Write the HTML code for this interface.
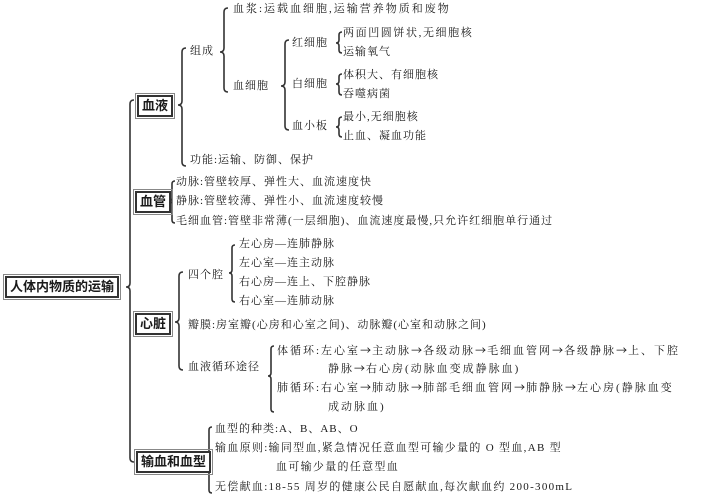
<!DOCTYPE html>
<html><head><meta charset="utf-8"><style>
body{margin:0;background:#fff;width:702px;height:500px;overflow:hidden;position:relative;font-family:"Liberation Serif","Noto Serif CJK SC",serif;color:#1a1a1a}
.t{position:absolute;font-size:11px;letter-spacing:1px;white-space:nowrap;line-height:14px}
.c{letter-spacing:2px}
.a{font-family:"Noto Sans CJK SC",sans-serif;letter-spacing:1px}
.b{position:absolute;border:2px solid #333;outline:1px solid #888;outline-offset:1px;font-family:"Liberation Sans","Noto Sans CJK SC",sans-serif;font-weight:bold;font-size:13px;line-height:18px;padding:0 3px;background:#fff}
svg{position:absolute;left:0;top:0}
</style></head><body>
<svg width="702" height="500" fill="none" stroke="#333" stroke-width="1.6">
<path d="M134 100 Q130 100 130 104 L130 283 Q130 287 126 287 Q130 287 130 291 L130 458 Q130 462 134 462"/>
<path d="M186 48 Q182 48 182 52 L182 101 Q182 105 178 105 Q182 105 182 109 L182 162 Q182 166 186 166"/>
<path d="M228 8 Q224 8 224 12 L224 48 Q224 52 220 52 Q224 52 224 56 L224 88 Q224 92 228 92"/>
<path d="M289 40 Q285 40 285 44 L285 82 Q285 86 281 86 Q285 86 285 90 L285 126 Q285 130 289 130"/>
<path d="M342 32 Q339 32 339 35 L339 40 Q339 43 336 43 Q339 43 339 46 L339 50 Q339 53 342 53"/>
<path d="M342 74 Q339 74 339 77 L339 81 Q339 84 336 84 Q339 84 339 87 L339 92 Q339 95 342 95"/>
<path d="M342 117 Q339 117 339 120 L339 124 Q339 127 336 127 Q339 127 339 130 L339 134 Q339 137 342 137"/>
<path d="M175 181 Q172 181 172 184 L172 198 Q172 201 169 201 Q172 201 172 204 L172 220 Q172 223 175 223"/>
<path d="M183 272 Q179 272 179 276 L179 318 Q179 322 175 322 Q179 322 179 326 L179 366 Q179 370 183 370"/>
<path d="M235 245 Q232 245 232 248 L232 270 Q232 273 229 273 Q232 273 232 276 L232 299 Q232 302 235 302"/>
<path d="M274 346 Q271 346 271 349 L271 373 Q271 376 268 376 Q271 376 271 379 L271 409 Q271 412 274 412"/>
<path d="M212 427 Q209 427 209 430 L209 458 Q209 461 206 461 Q209 461 209 464 L209 490 Q209 493 212 493"/>
</svg>
<div class="b" style="left:5px;top:276px">人体内物质的运输</div>
<div class="b" style="left:137px;top:95px">血液</div>
<div class="b" style="left:135px;top:191px">血管</div>
<div class="b" style="left:135px;top:313px">心脏</div>
<div class="b" style="left:136px;top:451px">输血和血型</div>

<div class="t" style="left:190px;top:44px">组成</div>
<div class="t" style="left:233px;top:2px;letter-spacing:2px">血浆:运载血细胞,运输营养物质和废物</div>
<div class="t" style="left:233px;top:79px">血细胞</div>
<div class="t" style="left:292px;top:36px">红细胞</div>
<div class="t" style="left:343px;top:26px;letter-spacing:1.6px">两面凹圆饼状,无细胞核</div>
<div class="t" style="left:343px;top:45px">运输氧气</div>
<div class="t" style="left:292px;top:77px">白细胞</div>
<div class="t" style="left:343px;top:68px">体积大、有细胞核</div>
<div class="t" style="left:343px;top:87px">吞噬病菌</div>
<div class="t" style="left:292px;top:119px">血小板</div>
<div class="t" style="left:343px;top:110px">最小,无细胞核</div>
<div class="t" style="left:343px;top:129px">止血、凝血功能</div>
<div class="t" style="left:190px;top:153px">功能:运输、防御、保护</div>

<div class="t" style="left:176px;top:175px">动脉:管壁较厚、弹性大、血流速度快</div>
<div class="t" style="left:176px;top:194px">静脉:管壁较薄、弹性小、血流速度较慢</div>
<div class="t" style="left:176px;top:214px">毛细血管:管壁非常薄(一层细胞)、血流速度最慢,只允许红细胞单行通过</div>

<div class="t" style="left:188px;top:268px">四个腔</div>
<div class="t" style="left:239px;top:237px">左心房—连肺静脉</div>
<div class="t" style="left:239px;top:256px">左心室—连主动脉</div>
<div class="t" style="left:239px;top:275px">右心房—连上、下腔静脉</div>
<div class="t" style="left:239px;top:294px">右心室—连肺动脉</div>
<div class="t" style="left:188px;top:318px">瓣膜:房室瓣(心房和心室之间)、动脉瓣(心室和动脉之间)</div>
<div class="t" style="left:188px;top:360px">血液循环途径</div>
<div class="t c" style="left:277px;top:343px">体循环:左心室<span class="a">→</span>主动脉<span class="a">→</span>各级动脉<span class="a">→</span>毛细血管网<span class="a">→</span>各级静脉<span class="a">→</span>上、下腔</div>
<div class="t c" style="left:328px;top:361px">静脉<span class="a">→</span>右心房(动脉血变成静脉血)</div>
<div class="t c" style="left:277px;top:380px">肺循环:右心室<span class="a">→</span>肺动脉<span class="a">→</span>肺部毛细血管网<span class="a">→</span>肺静脉<span class="a">→</span>左心房(静脉血变</div>
<div class="t c" style="left:328px;top:400px">成动脉血)</div>

<div class="t" style="left:215px;top:422px">血型的种类:A、B、AB、O</div>
<div class="t" style="left:215px;top:441px;letter-spacing:1.3px">输血原则:输同型血,紧急情况任意血型可输少量的 O 型血,AB 型</div>
<div class="t" style="left:276px;top:460px;letter-spacing:1.3px">血可输少量的任意型血</div>
<div class="t" style="left:215px;top:480px;letter-spacing:1.3px">无偿献血:18-55 周岁的健康公民自愿献血,每次献血约 200-300mL</div>
</body></html>
